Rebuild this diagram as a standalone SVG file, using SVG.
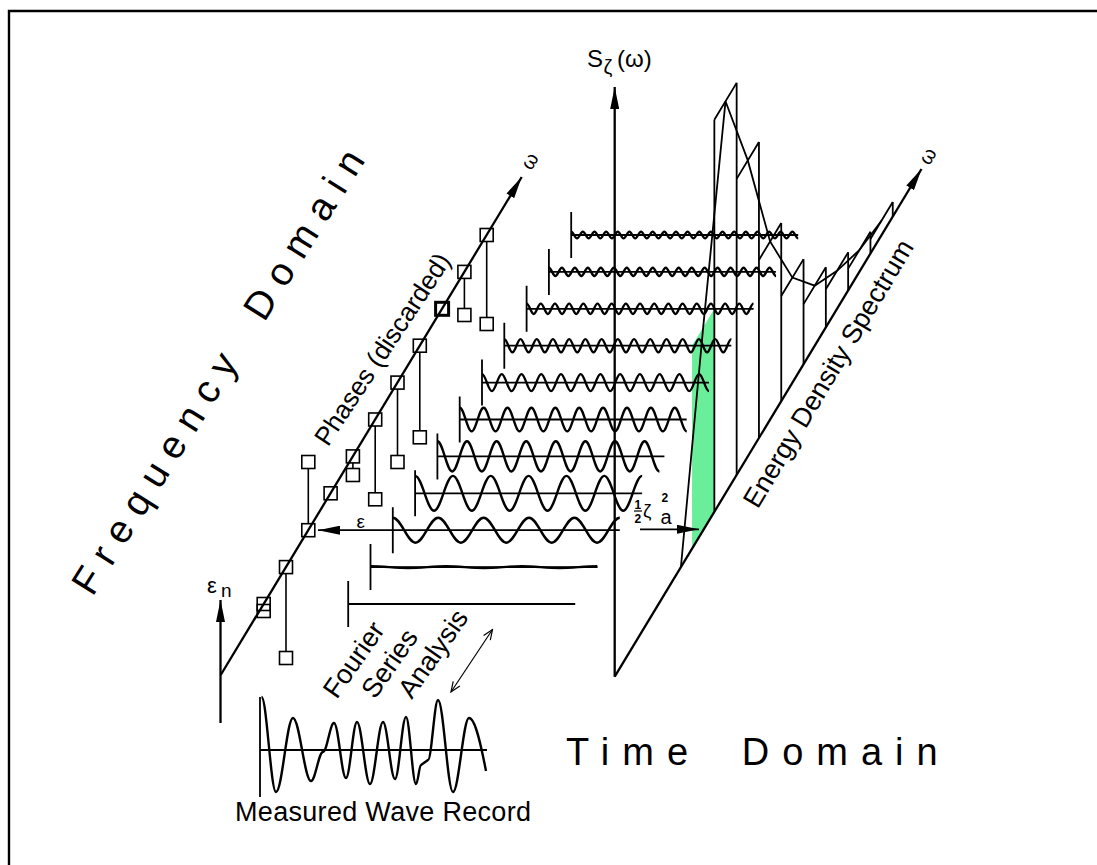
<svg xmlns="http://www.w3.org/2000/svg" width="1097" height="865" viewBox="0 0 1097 865">
<style>
.ln{stroke:#000;stroke-width:1.8;fill:none}
.ax{stroke:#000;stroke-width:2.3;fill:none}
.wv{stroke:#000;stroke-width:2.4;fill:none;stroke-linejoin:round}
.sq{stroke:#000;stroke-width:1.6;fill:none}
.t{font-family:"Liberation Sans",Arial,Helvetica,sans-serif;fill:#000}
.big{font-size:39px;letter-spacing:11.5px}
.lab{font-size:26px}
</style>
<defs>
<marker id="arr" markerUnits="userSpaceOnUse" markerWidth="22" markerHeight="9" refX="22" refY="4.5" orient="auto"><path d="M0,0 L22,4.5 L0,9 z" fill="#000"/></marker>
<marker id="open" markerUnits="userSpaceOnUse" markerWidth="12" markerHeight="10" refX="11" refY="5" orient="auto-start-reverse"><path d="M1,1 L11,5 L1,9" fill="none" stroke="#000" stroke-width="1.2"/></marker>
</defs>
<rect width="1097" height="865" fill="#fff"/>
<path id="frame" d="M9,865 V11 H1097" stroke="#000" stroke-width="2.4" fill="none"/>

<g id="spectrum-green"><polygon points="692.05,548.65 692.05,345.65 714.35,308.75 714.35,511.75" fill="#6aee9a"/></g>

<g id="wave-rows">
<g id="row0"><path class="ln" d="M348.2,581 V627 M348.2,604 H575.2"/></g>
<g id="row1"><path class="ln" d="M370.5,544.1 V590.1 M370.5,567.1 H597.5"/><path class="wv" d="M370.5,566.2 c13.7,0 24.1,1.8 37.8,1.8 s24.1,-1.8 37.8,-1.8 s24.1,1.8 37.8,1.8 s24.1,-1.8 37.8,-1.8 s24.1,1.8 37.8,1.8 s24.1,-1.8 37.8,-1.8"/></g>
<g id="row2"><path class="ln" d="M392.8,507.2 V553.2 M392.8,530.2 H619.8"/><path class="wv" d="M392.8,517.7 c8.25,0 14.45,25 22.7,25 s14.45,-25 22.7,-25 s14.45,25 22.7,25 s14.45,-25 22.7,-25 s14.45,25 22.7,25 s14.45,-25 22.7,-25 s14.45,25 22.7,25 s14.45,-25 22.7,-25 s14.45,25 22.7,25 s14.45,-25 22.7,-25"/></g>
<g id="row3"><path class="ln" d="M415.1,470.3 V516.3 M415.1,493.3 H642.1"/><path class="wv" d="M415.1,475.9 c6.88,0 12.04,34.8 18.92,34.8 s12.04,-34.8 18.92,-34.8 s12.04,34.8 18.92,34.8 s12.04,-34.8 18.92,-34.8 s12.04,34.8 18.92,34.8 s12.04,-34.8 18.92,-34.8 s12.04,34.8 18.92,34.8 s12.04,-34.8 18.92,-34.8 s12.04,34.8 18.92,34.8 s12.04,-34.8 18.92,-34.8 s12.04,34.8 18.92,34.8 s12.04,-34.8 18.92,-34.8"/></g>
<g id="row4"><path class="ln" d="M437.4,433.4 V479.4 M437.4,456.4 H664.4"/><path class="wv" d="M437.4,441.3 c5.38,0 9.42,30.2 14.8,30.2 s9.42,-30.2 14.8,-30.2 s9.42,30.2 14.8,30.2 s9.42,-30.2 14.8,-30.2 s9.42,30.2 14.8,30.2 s9.42,-30.2 14.8,-30.2 s9.42,30.2 14.8,30.2 s9.42,-30.2 14.8,-30.2 s9.42,30.2 14.8,30.2 s9.42,-30.2 14.8,-30.2 s9.42,30.2 14.8,30.2 s9.42,-30.2 14.8,-30.2 s9.42,30.2 14.8,30.2 s9.42,-30.2 14.8,-30.2 s9.42,30.2 14.8,30.2"/></g>
<g id="row5"><path class="ln" d="M459.7,396.5 V442.5 M459.7,419.5 H686.7"/><path class="wv" d="M459.7,407.7 c4.34,0 7.61,23.6 11.95,23.6 s7.61,-23.6 11.95,-23.6 s7.61,23.6 11.95,23.6 s7.61,-23.6 11.95,-23.6 s7.61,23.6 11.95,23.6 s7.61,-23.6 11.95,-23.6 s7.61,23.6 11.95,23.6 s7.61,-23.6 11.95,-23.6 s7.61,23.6 11.95,23.6 s7.61,-23.6 11.95,-23.6 s7.61,23.6 11.95,23.6 s7.61,-23.6 11.95,-23.6 s7.61,23.6 11.95,23.6 s7.61,-23.6 11.95,-23.6 s7.61,23.6 11.95,23.6 s7.61,-23.6 11.95,-23.6 s7.61,23.6 11.95,23.6 s7.61,-23.6 11.95,-23.6 s7.61,23.6 11.95,23.6"/></g>
<g id="row6"><path class="ln" d="M482,359.6 V405.6 M482,382.6 H709"/><path class="wv" d="M482,374.1 c3.59,0 6.28,17 9.87,17 s6.28,-17 9.87,-17 s6.28,17 9.87,17 s6.28,-17 9.87,-17 s6.28,17 9.87,17 s6.28,-17 9.87,-17 s6.28,17 9.87,17 s6.28,-17 9.87,-17 s6.28,17 9.87,17 s6.28,-17 9.87,-17 s6.28,17 9.87,17 s6.28,-17 9.87,-17 s6.28,17 9.87,17 s6.28,-17 9.87,-17 s6.28,17 9.87,17 s6.28,-17 9.87,-17 s6.28,17 9.87,17 s6.28,-17 9.87,-17 s6.28,17 9.87,17 s6.28,-17 9.87,-17 s6.28,17 9.87,17 s6.28,-17 9.87,-17 s6.28,17 9.87,17"/></g>
<g id="row7"><path class="ln" d="M504.3,322.7 V368.7 M504.3,345.7 H731.3"/><path class="wv" d="M504.3,339.1 c2.95,0 5.16,13.2 8.11,13.2 s5.16,-13.2 8.11,-13.2 s5.16,13.2 8.11,13.2 s5.16,-13.2 8.11,-13.2 s5.16,13.2 8.11,13.2 s5.16,-13.2 8.11,-13.2 s5.16,13.2 8.11,13.2 s5.16,-13.2 8.11,-13.2 s5.16,13.2 8.11,13.2 s5.16,-13.2 8.11,-13.2 s5.16,13.2 8.11,13.2 s5.16,-13.2 8.11,-13.2 s5.16,13.2 8.11,13.2 s5.16,-13.2 8.11,-13.2 s5.16,13.2 8.11,13.2 s5.16,-13.2 8.11,-13.2 s5.16,13.2 8.11,13.2 s5.16,-13.2 8.11,-13.2 s5.16,13.2 8.11,13.2 s5.16,-13.2 8.11,-13.2 s5.16,13.2 8.11,13.2 s5.16,-13.2 8.11,-13.2 s5.16,13.2 8.11,13.2 s5.16,-13.2 8.11,-13.2 s5.16,13.2 8.11,13.2 s5.16,-13.2 8.11,-13.2 s5.16,13.2 8.11,13.2 s5.16,-13.2 8.11,-13.2"/></g>
<g id="row8"><path class="ln" d="M526.6,285.8 V331.8 M526.6,308.8 H753.6"/><path class="wv" d="M526.6,303.6 c2.58,0 4.51,10.4 7.09,10.4 s4.51,-10.4 7.09,-10.4 s4.51,10.4 7.09,10.4 s4.51,-10.4 7.09,-10.4 s4.51,10.4 7.09,10.4 s4.51,-10.4 7.09,-10.4 s4.51,10.4 7.09,10.4 s4.51,-10.4 7.09,-10.4 s4.51,10.4 7.09,10.4 s4.51,-10.4 7.09,-10.4 s4.51,10.4 7.09,10.4 s4.51,-10.4 7.09,-10.4 s4.51,10.4 7.09,10.4 s4.51,-10.4 7.09,-10.4 s4.51,10.4 7.09,10.4 s4.51,-10.4 7.09,-10.4 s4.51,10.4 7.09,10.4 s4.51,-10.4 7.09,-10.4 s4.51,10.4 7.09,10.4 s4.51,-10.4 7.09,-10.4 s4.51,10.4 7.09,10.4 s4.51,-10.4 7.09,-10.4 s4.51,10.4 7.09,10.4 s4.51,-10.4 7.09,-10.4 s4.51,10.4 7.09,10.4 s4.51,-10.4 7.09,-10.4 s4.51,10.4 7.09,10.4 s4.51,-10.4 7.09,-10.4 s4.51,10.4 7.09,10.4 s4.51,-10.4 7.09,-10.4 s4.51,10.4 7.09,10.4 s4.51,-10.4 7.09,-10.4"/></g>
<g id="row9"><path class="ln" d="M548.9,248.9 V294.9 M548.9,271.9 H775.9"/><path class="wv" d="M548.9,267.8 c2.36,0 4.13,8.2 6.49,8.2 s4.13,-8.2 6.49,-8.2 s4.13,8.2 6.49,8.2 s4.13,-8.2 6.49,-8.2 s4.13,8.2 6.49,8.2 s4.13,-8.2 6.49,-8.2 s4.13,8.2 6.49,8.2 s4.13,-8.2 6.49,-8.2 s4.13,8.2 6.49,8.2 s4.13,-8.2 6.49,-8.2 s4.13,8.2 6.49,8.2 s4.13,-8.2 6.49,-8.2 s4.13,8.2 6.49,8.2 s4.13,-8.2 6.49,-8.2 s4.13,8.2 6.49,8.2 s4.13,-8.2 6.49,-8.2 s4.13,8.2 6.49,8.2 s4.13,-8.2 6.49,-8.2 s4.13,8.2 6.49,8.2 s4.13,-8.2 6.49,-8.2 s4.13,8.2 6.49,8.2 s4.13,-8.2 6.49,-8.2 s4.13,8.2 6.49,8.2 s4.13,-8.2 6.49,-8.2 s4.13,8.2 6.49,8.2 s4.13,-8.2 6.49,-8.2 s4.13,8.2 6.49,8.2 s4.13,-8.2 6.49,-8.2 s4.13,8.2 6.49,8.2 s4.13,-8.2 6.49,-8.2 s4.13,8.2 6.49,8.2 s4.13,-8.2 6.49,-8.2 s4.13,8.2 6.49,8.2 s4.13,-8.2 6.49,-8.2 s4.13,8.2 6.49,8.2"/></g>
<g id="row10"><path class="ln" d="M571.2,212 V258 M571.2,235 H798.2"/><path class="wv" d="M571.2,231.6 c2.12,0 3.7,6.8 5.82,6.8 s3.7,-6.8 5.82,-6.8 s3.7,6.8 5.82,6.8 s3.7,-6.8 5.82,-6.8 s3.7,6.8 5.82,6.8 s3.7,-6.8 5.82,-6.8 s3.7,6.8 5.82,6.8 s3.7,-6.8 5.82,-6.8 s3.7,6.8 5.82,6.8 s3.7,-6.8 5.82,-6.8 s3.7,6.8 5.82,6.8 s3.7,-6.8 5.82,-6.8 s3.7,6.8 5.82,6.8 s3.7,-6.8 5.82,-6.8 s3.7,6.8 5.82,6.8 s3.7,-6.8 5.82,-6.8 s3.7,6.8 5.82,6.8 s3.7,-6.8 5.82,-6.8 s3.7,6.8 5.82,6.8 s3.7,-6.8 5.82,-6.8 s3.7,6.8 5.82,6.8 s3.7,-6.8 5.82,-6.8 s3.7,6.8 5.82,6.8 s3.7,-6.8 5.82,-6.8 s3.7,6.8 5.82,6.8 s3.7,-6.8 5.82,-6.8 s3.7,6.8 5.82,6.8 s3.7,-6.8 5.82,-6.8 s3.7,6.8 5.82,6.8 s3.7,-6.8 5.82,-6.8 s3.7,6.8 5.82,6.8 s3.7,-6.8 5.82,-6.8 s3.7,6.8 5.82,6.8 s3.7,-6.8 5.82,-6.8 s3.7,6.8 5.82,6.8 s3.7,-6.8 5.82,-6.8 s3.7,6.8 5.82,6.8 s3.7,-6.8 5.82,-6.8 s3.7,6.8 5.82,6.8"/></g>
</g>

<g id="spectrum-bars">
<path class="ln" d="M714.35,119.75 L736.65,82.85 M736.65,178.85 L758.95,141.95 M758.95,259.95 L781.25,223.05 M781.25,296.05 L803.55,259.15 M803.55,304.15 L825.85,267.25 M825.85,289.25 L848.15,252.35 M848.15,268.65 L870.45,231.75 M870.45,238.95 L892.75,202.05"/>
<path class="ln" d="M714.35,119.75 V511.75 M736.65,82.85 V474.85 M758.95,141.95 V437.95 M781.25,223.05 V401.05 M803.55,259.15 V364.15 M825.85,267.25 V327.25 M848.15,252.35 V290.35 M870.45,231.75 V253.45 M892.75,202.05 V216.55"/>
<polyline class="ln" points="680.9,567.1 703.2,327.2 725.5,101.3 747.8,160.4 770.1,241.5 792.4,277.6 814.7,285.7 837,270.8 859.3,250.2 881.6,220.5"/>
</g>

<g id="squares">
<rect class="sq" x="480.2" y="228.5" width="13" height="13"/>
<rect class="sq" x="457.9" y="265.4" width="13" height="13"/>
<rect class="sq" x="435.6" y="302.3" width="13" height="13" style="stroke-width:3"/>
<rect class="sq" x="413.3" y="339.2" width="13" height="13"/>
<rect class="sq" x="391" y="376.1" width="13" height="13"/>
<rect class="sq" x="368.7" y="413" width="13" height="13"/>
<rect class="sq" x="346.4" y="449.9" width="13" height="13"/>
<rect class="sq" x="324.1" y="486.8" width="13" height="13"/>
<rect class="sq" x="301.8" y="523.7" width="13" height="13"/>
<rect class="sq" x="279.5" y="560.6" width="13" height="13"/>
<rect class="sq" x="257.2" y="597.5" width="13" height="13"/>
<rect class="sq" x="480.2" y="317.5" width="13" height="13"/>
<rect class="sq" x="457.9" y="308.5" width="13" height="13"/>
<rect class="sq" x="413.3" y="430.8" width="13" height="13"/>
<rect class="sq" x="391" y="455.5" width="13" height="13"/>
<rect class="sq" x="368.7" y="492.8" width="13" height="13"/>
<rect class="sq" x="346.4" y="468.5" width="13" height="13"/>
<rect class="sq" x="301.8" y="455.5" width="13" height="13"/>
<rect class="sq" x="279.5" y="651.5" width="13" height="13"/>
<rect class="sq" x="257.2" y="604.5" width="13" height="13"/>
<path class="sq" d="M486.7,241.5 V317.5 M464.4,278.4 V308.5 M419.8,352.2 V430.8 M397.5,389.1 V455.5 M375.2,426 V492.8 M352.9,462.9 V468.5 M308.3,468.5 V523.7 M286,573.6 V651.5"/>
</g>

<g id="record">
<path class="ln" d="M260,697 V797 M260,750 H487"/>
<path class="wv" d="M261.5,697 C266.8,697 270.7,792 276,792 C282.2,792 286.8,718 293,718 C299.5,718 304.5,781 311,781 C315.4,781 318.6,752 323,752 C327,752 330,723 334,723 C338.4,723 341.6,778 346,778 C350,778 353,722 357,722 C361.7,722 365.3,784 370,784 C374.7,784 378.3,722 383,722 C387.4,722 390.6,779 395,779 C399,779 402,717 406,717 C409.6,717 412.4,784 416,784 C418,784 419,766 421,765 L428,760 C431.6,760 434.4,700 438,700 C443.5,700 447.5,792 453,792 C458.8,792 463.2,718 469,718 C475.2,718 481,745 486,771"/>
</g>

<g id="connectors">
<line class="ax" x1="220.7" y1="675" x2="521.7" y2="177" marker-end="url(#arr)"/>
<line class="ax" x1="220.5" y1="723" x2="220.5" y2="600" marker-end="url(#arr)"/>
<line class="ax" x1="614.7" y1="676.7" x2="921.5" y2="169" marker-end="url(#arr)"/>
<line class="ax" x1="614.7" y1="676.7" x2="614.7" y2="87" marker-end="url(#arr)"/>
<line class="ln" x1="392.8" y1="530.2" x2="318" y2="530.2" marker-end="url(#arr)"/>
<line class="ln" x1="640" y1="529.3" x2="699" y2="529.3" marker-end="url(#arr)"/>
<line x1="451" y1="692" x2="492.5" y2="629.5" stroke="#000" stroke-width="1.2" marker-start="url(#open)" marker-end="url(#open)"/>
</g>

<g id="labels" class="t">
<g transform="translate(92.6,597.5) rotate(-58)"><text class="big" x="0" y="0">Frequency</text><text class="big" x="323.8" y="0">Domain</text></g>
<text x="566" y="765" style="font-size:38px;letter-spacing:13px">Time</text>
<text x="741.7" y="765" style="font-size:38px;letter-spacing:13px">Domain</text>
<text class="lab" transform="translate(328,447.4) rotate(-56.5)">Phases (discarded)</text>
<text class="lab" style="font-size:27px" transform="translate(757.8,509.7) rotate(-59.2)">Energy Density Spectrum</text>
<text class="lab" style="font-size:27px" transform="translate(336.7,700) rotate(-55)">Fourier</text>
<text class="lab" style="font-size:27px" transform="translate(375,700) rotate(-55)">Series</text>
<text class="lab" style="font-size:27px" transform="translate(411.7,700) rotate(-55)">Analysis</text>
<text class="lab" x="235" y="821" style="font-size:27px" textLength="296">Measured Wave Record</text>
<text x="587" y="67" style="font-size:24px">S<tspan x="603.5" y="74" style="font-size:20px">ζ</tspan><tspan x="617" y="67" style="font-size:24px">(ω)</tspan></text>
<text x="207" y="593" style="font-size:22px">ε<tspan x="221" y="597" style="font-size:19px">n</tspan></text>
<text x="356.5" y="528" style="font-size:19px">ε</text>
<text text-anchor="middle" style="font-size:20px" transform="translate(531,162) rotate(-59)" y="5">ω</text>
<text text-anchor="middle" style="font-size:20px" transform="translate(929,157) rotate(-59)" y="5">ω</text>
<line x1="634" y1="511" x2="642" y2="511" stroke="#000" stroke-width="1.2"/>
<text x="634.5" y="508.5" style="font-size:12px;font-weight:bold">1<tspan x="634.5" y="523">2</tspan><tspan x="643" y="517" style="font-size:19px;font-weight:normal">ζ</tspan><tspan x="661.5" y="502" style="font-size:12px">2</tspan><tspan x="660.5" y="524" style="font-size:20px;font-weight:normal">a</tspan></text>
</g>
</svg>
